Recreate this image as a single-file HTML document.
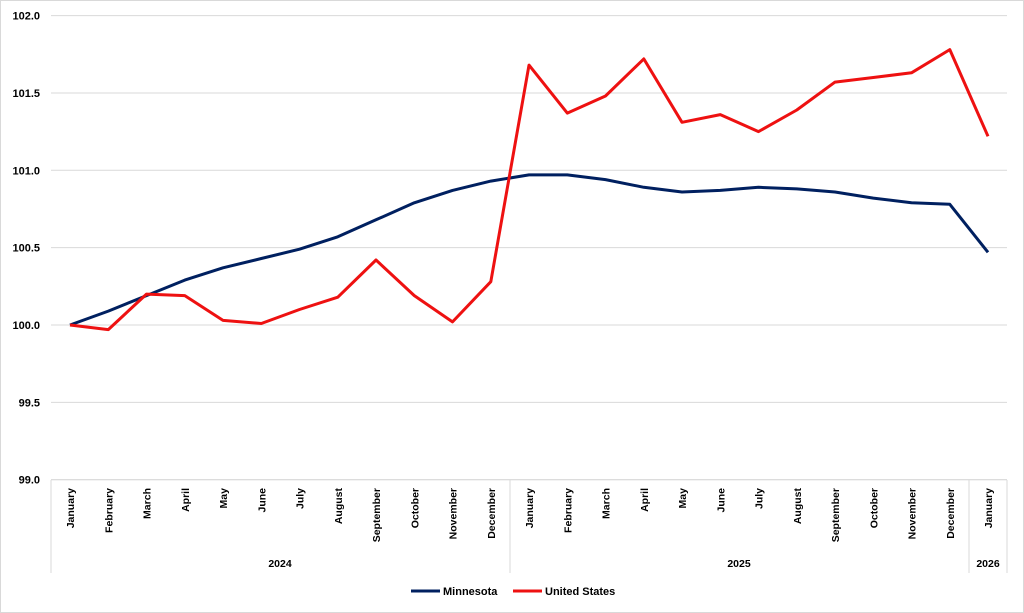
<!DOCTYPE html>
<html><head><meta charset="utf-8"><style>
html,body{margin:0;padding:0;background:#fff;}
svg{display:block;font-family:"Liberation Sans",Arial,sans-serif;font-weight:bold;}
</style></head><body>
<svg id="c" width="1024" height="613" viewBox="0 0 1024 613" xmlns="http://www.w3.org/2000/svg">
<rect x="0.5" y="0.5" width="1023" height="612" fill="#fff" stroke="#d9d9d9"/>
<g id="g"></g>
</svg>
<script>
const g=document.getElementById('g');
const NS='http://www.w3.org/2000/svg';
let h='';
const y=v=>325-(v-100)*154.7;
const x=i=>70+i*38.25;
for(let v=99;v<=102.001;v+=0.5){
  const yy=y(v);
  h+=`<line x1="51" x2="1007" y1="${yy}" y2="${yy}" stroke="${v===99?'#d0d0d0':'#d9d9d9'}" stroke-width="1"/>`;
  h+=`<text x="40" y="${yy+4}" font-size="11" text-anchor="end" fill="#000">${v.toFixed(1)}</text>`;
}
const m=["January","February","March","April","May","June","July","August","September","October","November","December"];
const labs=[...m,...m,"January"];
labs.forEach((l,i)=>{
  h+=`<text transform="translate(${x(i)+4},488) rotate(-90)" font-size="10.5" text-anchor="end" fill="#000">${l}</text>`;
});
[51,510,969,1007].forEach(xx=>{h+=`<line x1="${xx}" x2="${xx}" y1="480" y2="573" stroke="#d9d9d9"/>`;});
h+=`<text x="280" y="567" font-size="10.5" text-anchor="middle">2024</text>`;
h+=`<text x="739" y="567" font-size="10.5" text-anchor="middle">2025</text>`;
h+=`<text x="988" y="567" font-size="10.5" text-anchor="middle">2026</text>`;
const mn=[100,100.09,100.19,100.29,100.37,100.43,100.49,100.57,100.68,100.79,100.87,100.93,100.97,100.97,100.94,100.89,100.86,100.87,100.89,100.88,100.86,100.82,100.79,100.78,100.47];
const us=[100,99.97,100.20,100.19,100.03,100.01,100.10,100.18,100.42,100.19,100.02,100.28,101.68,101.37,101.48,101.72,101.31,101.36,101.25,101.39,101.57,101.60,101.63,101.78,101.22];
const pts=a=>a.map((v,i)=>x(i).toFixed(1)+','+y(v).toFixed(1)).join(' ');
h+=`<polyline points="${pts(mn)}" fill="none" stroke="#002060" stroke-width="3" stroke-linejoin="round"/>`;
h+=`<polyline points="${pts(us)}" fill="none" stroke="#ee1111" stroke-width="3" stroke-linejoin="round"/>`;
h+=`<line x1="411" x2="440" y1="591" y2="591" stroke="#002060" stroke-width="3"/>`;
h+=`<text x="443" y="595" font-size="11">Minnesota</text>`;
h+=`<line x1="513" x2="542" y1="591" y2="591" stroke="#ee1111" stroke-width="3"/>`;
h+=`<text x="545" y="595" font-size="11">United States</text>`;
g.innerHTML=h;
</script>
</body></html>
